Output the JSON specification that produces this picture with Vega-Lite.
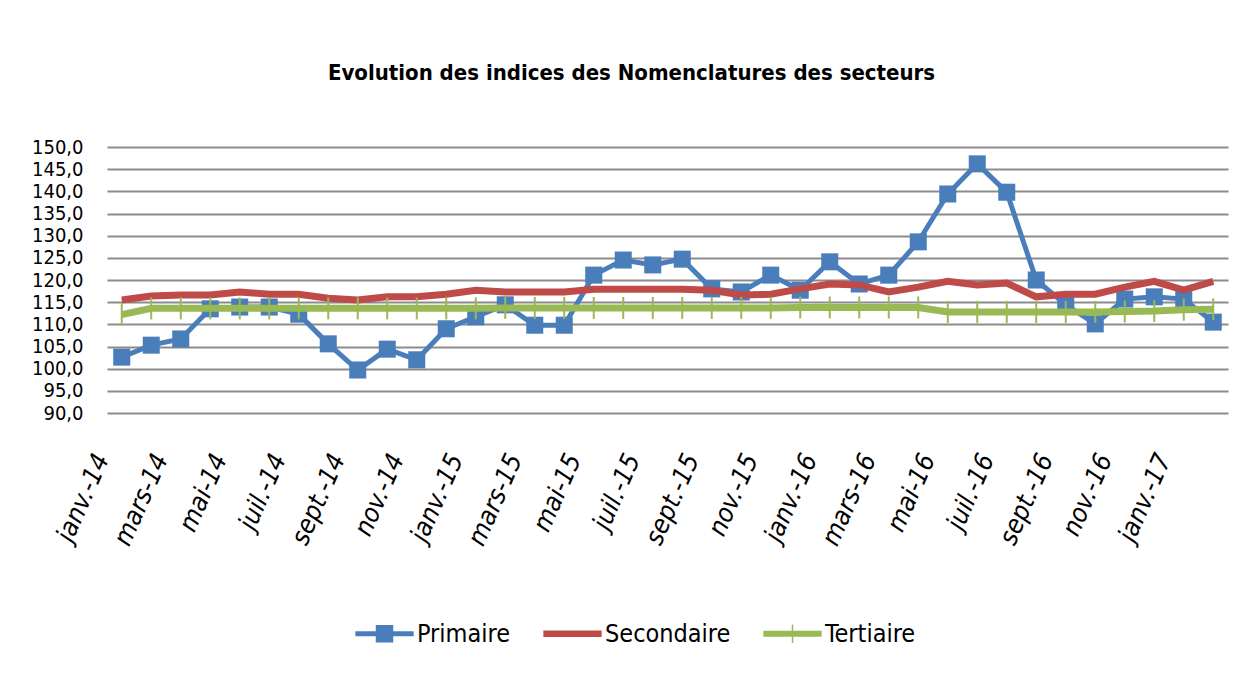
{
  "$schema": "https://vega.github.io/schema/vega-lite/v6.json",
  "width": 1121,
  "height": 266,
  "padding": {"left": 17, "top": 62, "right": 20, "bottom": 10},
  "background": "white",
  "title": {"text": "Evolution des indices des Nomenclatures des secteurs", "fontSize": 22, "font": "Liberation Sans Narrow, DejaVu Sans Condensed, Open Sans, sans-serif", "fontWeight": "bold", "color": "#000000", "anchor": "middle", "offset": 52, "dx": -36},
  "data": {"values": [
    {"mois": "janv.-14", "serie": "Primaire", "valeur": 102.6},
    {"mois": "févr.-14", "serie": "Primaire", "valeur": 105.3},
    {"mois": "mars-14", "serie": "Primaire", "valeur": 106.7},
    {"mois": "avr.-14", "serie": "Primaire", "valeur": 113.5},
    {"mois": "mai-14", "serie": "Primaire", "valeur": 113.9},
    {"mois": "juin-14", "serie": "Primaire", "valeur": 113.9},
    {"mois": "juil.-14", "serie": "Primaire", "valeur": 112.3},
    {"mois": "août-14", "serie": "Primaire", "valeur": 105.6},
    {"mois": "sept.-14", "serie": "Primaire", "valeur": 99.7},
    {"mois": "oct.-14", "serie": "Primaire", "valeur": 104.4},
    {"mois": "nov.-14", "serie": "Primaire", "valeur": 102.0},
    {"mois": "déc.-14", "serie": "Primaire", "valeur": 109.0},
    {"mois": "janv.-15", "serie": "Primaire", "valeur": 111.7},
    {"mois": "févr.-15", "serie": "Primaire", "valeur": 114.4},
    {"mois": "mars-15", "serie": "Primaire", "valeur": 109.8},
    {"mois": "avr.-15", "serie": "Primaire", "valeur": 109.8},
    {"mois": "mai-15", "serie": "Primaire", "valeur": 121.1},
    {"mois": "juin-15", "serie": "Primaire", "valeur": 124.5},
    {"mois": "juil.-15", "serie": "Primaire", "valeur": 123.4},
    {"mois": "août-15", "serie": "Primaire", "valeur": 124.7},
    {"mois": "sept.-15", "serie": "Primaire", "valeur": 118.0},
    {"mois": "oct.-15", "serie": "Primaire", "valeur": 117.3},
    {"mois": "nov.-15", "serie": "Primaire", "valeur": 121.1},
    {"mois": "déc.-15", "serie": "Primaire", "valeur": 117.7},
    {"mois": "janv.-16", "serie": "Primaire", "valeur": 124.1},
    {"mois": "févr.-16", "serie": "Primaire", "valeur": 119.1},
    {"mois": "mars-16", "serie": "Primaire", "valeur": 121.1},
    {"mois": "avr.-16", "serie": "Primaire", "valeur": 128.6},
    {"mois": "mai-16", "serie": "Primaire", "valeur": 139.4},
    {"mois": "juin-16", "serie": "Primaire", "valeur": 146.2},
    {"mois": "juil.-16", "serie": "Primaire", "valeur": 139.8},
    {"mois": "août-16", "serie": "Primaire", "valeur": 120.0},
    {"mois": "sept.-16", "serie": "Primaire", "valeur": 114.4},
    {"mois": "oct.-16", "serie": "Primaire", "valeur": 110.1},
    {"mois": "nov.-16", "serie": "Primaire", "valeur": 115.7},
    {"mois": "déc.-16", "serie": "Primaire", "valeur": 116.2},
    {"mois": "janv.-17", "serie": "Primaire", "valeur": 115.7},
    {"mois": "févr.-17", "serie": "Primaire", "valeur": 110.5},
    {"mois": "janv.-14", "serie": "Secondaire", "valeur": 115.5},
    {"mois": "févr.-14", "serie": "Secondaire", "valeur": 116.4},
    {"mois": "mars-14", "serie": "Secondaire", "valeur": 116.6},
    {"mois": "avr.-14", "serie": "Secondaire", "valeur": 116.6},
    {"mois": "mai-14", "serie": "Secondaire", "valeur": 117.3},
    {"mois": "juin-14", "serie": "Secondaire", "valeur": 116.8},
    {"mois": "juil.-14", "serie": "Secondaire", "valeur": 116.8},
    {"mois": "août-14", "serie": "Secondaire", "valeur": 115.9},
    {"mois": "sept.-14", "serie": "Secondaire", "valeur": 115.5},
    {"mois": "oct.-14", "serie": "Secondaire", "valeur": 116.2},
    {"mois": "nov.-14", "serie": "Secondaire", "valeur": 116.2},
    {"mois": "déc.-14", "serie": "Secondaire", "valeur": 116.8},
    {"mois": "janv.-15", "serie": "Secondaire", "valeur": 117.7},
    {"mois": "févr.-15", "serie": "Secondaire", "valeur": 117.3},
    {"mois": "mars-15", "serie": "Secondaire", "valeur": 117.3},
    {"mois": "avr.-15", "serie": "Secondaire", "valeur": 117.3},
    {"mois": "mai-15", "serie": "Secondaire", "valeur": 117.9},
    {"mois": "juin-15", "serie": "Secondaire", "valeur": 117.9},
    {"mois": "juil.-15", "serie": "Secondaire", "valeur": 117.9},
    {"mois": "août-15", "serie": "Secondaire", "valeur": 117.9},
    {"mois": "sept.-15", "serie": "Secondaire", "valeur": 117.7},
    {"mois": "oct.-15", "serie": "Secondaire", "valeur": 116.6},
    {"mois": "nov.-15", "serie": "Secondaire", "valeur": 116.8},
    {"mois": "déc.-15", "serie": "Secondaire", "valeur": 118.0},
    {"mois": "janv.-16", "serie": "Secondaire", "valeur": 119.1},
    {"mois": "févr.-16", "serie": "Secondaire", "valeur": 118.9},
    {"mois": "mars-16", "serie": "Secondaire", "valeur": 117.3},
    {"mois": "avr.-16", "serie": "Secondaire", "valeur": 118.4},
    {"mois": "mai-16", "serie": "Secondaire", "valeur": 119.7},
    {"mois": "juin-16", "serie": "Secondaire", "valeur": 118.9},
    {"mois": "juil.-16", "serie": "Secondaire", "valeur": 119.3},
    {"mois": "août-16", "serie": "Secondaire", "valeur": 116.2},
    {"mois": "sept.-16", "serie": "Secondaire", "valeur": 116.8},
    {"mois": "oct.-16", "serie": "Secondaire", "valeur": 116.8},
    {"mois": "nov.-16", "serie": "Secondaire", "valeur": 118.4},
    {"mois": "déc.-16", "serie": "Secondaire", "valeur": 119.7},
    {"mois": "janv.-17", "serie": "Secondaire", "valeur": 117.7},
    {"mois": "févr.-17", "serie": "Secondaire", "valeur": 119.7},
    {"mois": "janv.-14", "serie": "Tertiaire", "valeur": 112.2},
    {"mois": "févr.-14", "serie": "Tertiaire", "valeur": 113.6},
    {"mois": "mars-14", "serie": "Tertiaire", "valeur": 113.6},
    {"mois": "avr.-14", "serie": "Tertiaire", "valeur": 113.6},
    {"mois": "mai-14", "serie": "Tertiaire", "valeur": 113.6},
    {"mois": "juin-14", "serie": "Tertiaire", "valeur": 113.6},
    {"mois": "juil.-14", "serie": "Tertiaire", "valeur": 113.6},
    {"mois": "août-14", "serie": "Tertiaire", "valeur": 113.6},
    {"mois": "sept.-14", "serie": "Tertiaire", "valeur": 113.6},
    {"mois": "oct.-14", "serie": "Tertiaire", "valeur": 113.6},
    {"mois": "nov.-14", "serie": "Tertiaire", "valeur": 113.6},
    {"mois": "déc.-14", "serie": "Tertiaire", "valeur": 113.6},
    {"mois": "janv.-15", "serie": "Tertiaire", "valeur": 113.6},
    {"mois": "févr.-15", "serie": "Tertiaire", "valeur": 113.7},
    {"mois": "mars-15", "serie": "Tertiaire", "valeur": 113.7},
    {"mois": "avr.-15", "serie": "Tertiaire", "valeur": 113.7},
    {"mois": "mai-15", "serie": "Tertiaire", "valeur": 113.7},
    {"mois": "juin-15", "serie": "Tertiaire", "valeur": 113.7},
    {"mois": "juil.-15", "serie": "Tertiaire", "valeur": 113.7},
    {"mois": "août-15", "serie": "Tertiaire", "valeur": 113.7},
    {"mois": "sept.-15", "serie": "Tertiaire", "valeur": 113.7},
    {"mois": "oct.-15", "serie": "Tertiaire", "valeur": 113.7},
    {"mois": "nov.-15", "serie": "Tertiaire", "valeur": 113.7},
    {"mois": "déc.-15", "serie": "Tertiaire", "valeur": 113.8},
    {"mois": "janv.-16", "serie": "Tertiaire", "valeur": 113.8},
    {"mois": "févr.-16", "serie": "Tertiaire", "valeur": 113.8},
    {"mois": "mars-16", "serie": "Tertiaire", "valeur": 113.8},
    {"mois": "avr.-16", "serie": "Tertiaire", "valeur": 113.8},
    {"mois": "mai-16", "serie": "Tertiaire", "valeur": 112.8},
    {"mois": "juin-16", "serie": "Tertiaire", "valeur": 112.8},
    {"mois": "juil.-16", "serie": "Tertiaire", "valeur": 112.8},
    {"mois": "août-16", "serie": "Tertiaire", "valeur": 112.8},
    {"mois": "sept.-16", "serie": "Tertiaire", "valeur": 112.8},
    {"mois": "oct.-16", "serie": "Tertiaire", "valeur": 112.8},
    {"mois": "nov.-16", "serie": "Tertiaire", "valeur": 112.9},
    {"mois": "déc.-16", "serie": "Tertiaire", "valeur": 113.0},
    {"mois": "janv.-17", "serie": "Tertiaire", "valeur": 113.3},
    {"mois": "févr.-17", "serie": "Tertiaire", "valeur": 113.4}
  ]},
  "encoding": {
    "x": {
      "field": "mois", "type": "ordinal",
      "scale": {"type": "point", "padding": 0.5, "domain": ["janv.-14","févr.-14","mars-14","avr.-14","mai-14","juin-14","juil.-14","août-14","sept.-14","oct.-14","nov.-14","déc.-14","janv.-15","févr.-15","mars-15","avr.-15","mai-15","juin-15","juil.-15","août-15","sept.-15","oct.-15","nov.-15","déc.-15","janv.-16","févr.-16","mars-16","avr.-16","mai-16","juin-16","juil.-16","août-16","sept.-16","oct.-16","nov.-16","déc.-16","janv.-17","févr.-17"]},
      "axis": {
        "title": null,
        "values": ["janv.-14","mars-14","mai-14","juil.-14","sept.-14","nov.-14","janv.-15","mars-15","mai-15","juil.-15","sept.-15","nov.-15","janv.-16","mars-16","mai-16","juil.-16","sept.-16","nov.-16","janv.-17"],
        "labelAngle": -66, "labelAlign": "right", "labelBaseline": "middle",
        "labelFontSize": 26, "labelFontStyle": "italic",
        "labelFont": "Liberation Sans Narrow, DejaVu Sans Condensed, Open Sans, sans-serif",
        "labelColor": "#000000", "labelPadding": 42, "labelOffset": -20,
        "domain": false, "ticks": false, "grid": false, "labelOverlap": false, "labelBound": false
      }
    },
    "y": {
      "field": "valeur", "type": "quantitative",
      "scale": {"domain": [90, 150], "nice": false, "zero": false},
      "axis": {
        "title": null,
        "values": [90,95,100,105,110,115,120,125,130,135,140,145,150],
        "labelExpr": "replace(format(datum.value, '.1f'), '.', ',')",
        "labelFontSize": 20,
        "labelFont": "Liberation Sans Narrow, DejaVu Sans Condensed, Open Sans, sans-serif",
        "labelColor": "#000000", "labelPadding": 24,
        "domain": false, "ticks": false, "grid": true, "gridColor": "#8C8C8C", "gridWidth": 1.8,
        "labelOverlap": false, "labelBound": false, "minExtent": 90, "maxExtent": 90
      }
    },
    "color": {
      "field": "serie", "type": "nominal",
      "scale": {"domain": ["Primaire", "Secondaire", "Tertiaire"], "range": ["#4A7EBB", "#BE4B48", "#98B954"]},
      "legend": {
        "orient": "none", "legendX": 248, "legendY": 457, "direction": "horizontal", "title": null,
        "labelFontSize": 25,
        "labelFont": "Liberation Sans Narrow, DejaVu Sans Condensed, Open Sans, sans-serif",
        "labelColor": "#000000", "columnPadding": 32, "symbolSize": 3400, "labelOffset": 3,
        "encode": {
          "symbols": {
            "update": {
              "shape": {"signal": "datum.value === 'Primaire' ? 'M-1,-0.09L1,-0.09L1,0.09L-1,0.09Z M-0.3,-0.3L0.3,-0.3L0.3,0.3L-0.3,0.3Z' : datum.value === 'Secondaire' ? 'M-1,-0.11L1,-0.11L1,0.11L-1,0.11Z' : 'M-1,-0.1L1,-0.1L1,0.1L-1,0.1Z M-0.025,-0.32L0.025,-0.32L0.025,0.32L-0.025,0.32Z'"},
              "fill": {"scale": "color", "field": "value"},
              "stroke": {"value": "transparent"},
              "strokeWidth": {"value": 0},
              "opacity": {"value": 1},
              "fillOpacity": {"value": 1}
            }
          }
        }
      }
    }
  },
  "layer": [
    {"transform": [{"filter": "datum.serie === 'Primaire'"}], "mark": {"type": "line", "strokeWidth": 5}},
    {"transform": [{"filter": "datum.serie === 'Primaire'"}], "mark": {"type": "point", "shape": "square", "filled": true, "size": 290, "opacity": 1}},
    {"transform": [{"filter": "datum.serie === 'Secondaire'"}], "mark": {"type": "line", "strokeWidth": 7}},
    {"transform": [{"filter": "datum.serie === 'Tertiaire'"}], "mark": {"type": "line", "strokeWidth": 7}},
    {"transform": [{"filter": "datum.serie === 'Tertiaire'"}], "mark": {"type": "point", "shape": "M0,-1L0,1", "filled": false, "strokeWidth": 2, "size": 484, "opacity": 1}}
  ],
  "config": {"view": {"stroke": null}, "font": "Liberation Sans Narrow, DejaVu Sans Condensed, Open Sans, sans-serif"}
}
